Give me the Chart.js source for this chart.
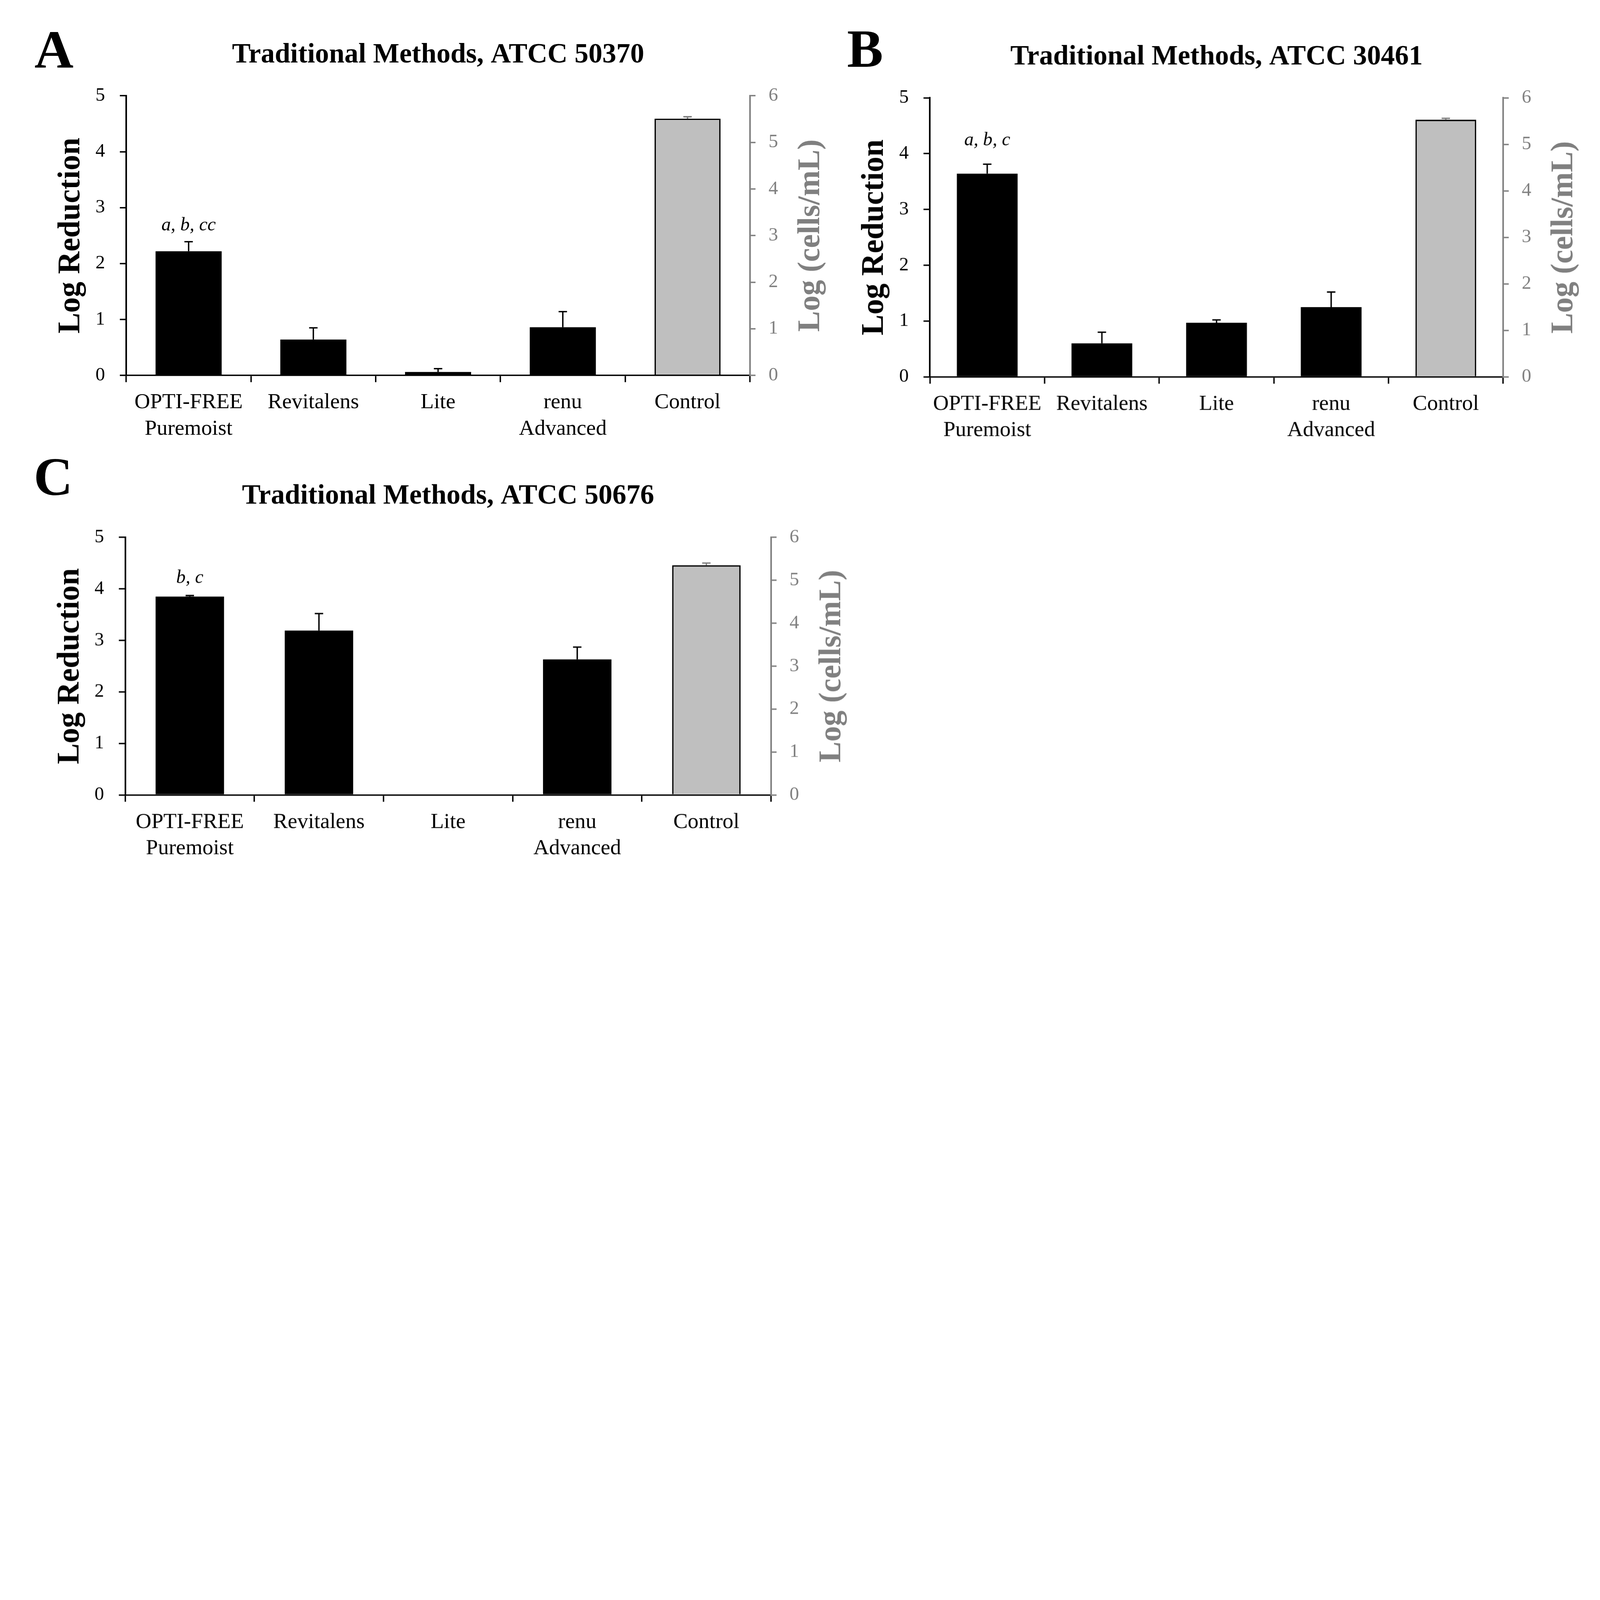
<!DOCTYPE html>
<html>
<head>
<meta charset="utf-8">
<script src="https://cdn.jsdelivr.net/npm/chart.js@4.4.0/dist/chart.umd.min.js"></script>
<style>
  html, body { margin: 0; padding: 0; background: #fff; overflow: hidden; }
  #page { position: absolute; left: 0; top: 0; width: 7984px; height: 4356px; transform-origin: 0 0; background: #fff; }
  canvas { position: absolute; }
  .letter { position: absolute; font-family: "Liberation Serif", serif; font-weight: bold; font-size: 270px; line-height: 1; color: #000; }
</style>
</head>
<body>
<div id="page">
<div class="letter" style="left:172px; top:111px;">A</div>
<div class="letter" style="left:4227px; top:107px;">B</div>
<div class="letter" style="left:168px; top:2244px;">C</div>
<canvas id="chartA" style="left:0; top:0;" width="4150" height="2250"></canvas>
<canvas id="chartB" style="left:4150px; top:0;" width="3834" height="2250"></canvas>
<canvas id="chartC" style="left:0; top:2250px;" width="4450" height="2106"></canvas>
</div>
<script>
// ---- dados ----
const categories = [["OPTI-FREE", "Puremoist"], "Revitalens", "Lite", ["renu", "Advanced"], "Control"];

// A - ATCC 50370
const reductionA = [2.22, 0.64, 0.06, 0.86, null];
const reductionErrA = [0.17, 0.21, 0.06, 0.28, null];
const controlA = [null, null, null, null, 5.51];
const controlErrA = [null, null, null, null, 0.04];

// B - ATCC 30461
const reductionB = [3.64, 0.60, 0.97, 1.25, null];
const reductionErrB = [0.17, 0.20, 0.05, 0.27, null];
const controlB = [null, null, null, null, 5.53];
const controlErrB = [null, null, null, null, 0.03];

// C - ATCC 50676
const reductionC = [3.85, 3.19, 0, 2.63, null];
const reductionErrC = [0.02, 0.33, 0, 0.24, null];
const controlC = [null, null, null, null, 5.35];
const controlErrC = [null, null, null, null, 0.05];

const FONT = '"Liberation Serif", "Times New Roman", serif';
const GRAY = "#808080";

// a janela real é menor que 7984x4356: escala a página inteira para caber
const fit = Math.min(window.innerWidth / 7984, window.innerHeight / 4356, 1);
document.getElementById("page").style.transform = `scale(${fit})`;

// barras de erro (só para cima)
const errorBars = {
    id: "errorBars",
    afterDatasetsDraw(chart) {
        const ctx = chart.ctx;
        chart.data.datasets.forEach((ds, di) => {
            const meta = chart.getDatasetMeta(di);
            const scale = chart.scales[ds.yAxisID];
            ds.errors.forEach((e, i) => {
                if (!e || ds.data[i] == null) return;
                const bar = meta.data[i];
                const yTop = scale.getPixelForValue(ds.data[i] + e);
                ctx.save();
                ctx.strokeStyle = ds.errorColor;
                ctx.lineWidth = 7;
                ctx.beginPath();
                ctx.moveTo(bar.x, bar.y);
                ctx.lineTo(bar.x, yTop);
                ctx.moveTo(bar.x - 21, yTop);
                ctx.lineTo(bar.x + 21, yTop);
                ctx.stroke();
                ctx.restore();
            });
        });
    }
};

// títulos, eixos e letras de significância
const panelText = {
    id: "panelText",
    afterDraw(chart, args, opts) {
        const ctx = chart.ctx;
        const area = chart.chartArea;
        const midY = (area.top + area.bottom) / 2;
        ctx.save();
        ctx.fillStyle = "#000";
        ctx.textAlign = "center";
        ctx.textBaseline = "middle";
        ctx.font = `bold 139px ${FONT}`;
        ctx.fillText(opts.title, (area.left + area.right) / 2, area.top - opts.titleGap);

        ctx.font = `bold 155px ${FONT}`;
        ctx.save();
        ctx.translate(area.left - 274, midY);
        ctx.rotate(-Math.PI / 2);
        ctx.fillText("Log Reduction", 0, 0);
        ctx.restore();

        ctx.fillStyle = GRAY;
        ctx.save();
        ctx.translate(area.right + opts.rightGap, midY);
        ctx.rotate(-Math.PI / 2);
        ctx.fillText("Log (cells/mL)", 0, 0);
        ctx.restore();

        // anotação sobre a primeira barra
        const ds = chart.data.datasets[0];
        const bar = chart.getDatasetMeta(0).data[0];
        const yErr = chart.scales.y.getPixelForValue(ds.data[0] + (ds.errors[0] || 0));
        ctx.fillStyle = "#000";
        ctx.font = `italic 94px ${FONT}`;
        ctx.fillText(opts.note, bar.x, yErr - opts.noteGap);
        ctx.restore();
    }
};

function makeChart(id, reduction, reductionErr, control, controlErr, p) {
    new Chart(document.getElementById(id), {
        type: "bar",
        data: {
            labels: categories,
            datasets: [
                {
                    label: "Log Reduction",
                    data: reduction,
                    errors: reductionErr,
                    errorColor: "#000",
                    yAxisID: "y",
                    backgroundColor: "#000",
                    borderWidth: 0,
                    grouped: false,
                    barPercentage: 0.53,
                    categoryPercentage: 1
                },
                {
                    label: "Control",
                    data: control,
                    errors: controlErr,
                    errorColor: GRAY,
                    yAxisID: "y2",
                    backgroundColor: "#bfbfbf",
                    borderColor: "#000",
                    borderWidth: 7,
                    grouped: false,
                    barPercentage: 0.53,
                    categoryPercentage: 1
                }
            ]
        },
        options: {
            responsive: false,
            animation: false,
            devicePixelRatio: fit,
            layout: { padding: { top: p.top, left: 0, right: 0, bottom: 0 } },
            plugins: {
                legend: { display: false },
                tooltip: { enabled: false },
                panelText: { title: p.title, note: p.note, titleGap: 203, rightGap: 305, noteGap: p.noteGap }
            },
            scales: {
                x: {
                    offset: true,
                    grid: { offset: true, drawOnChartArea: false, drawTicks: true, tickLength: 34, color: "#000", lineWidth: 7 },
                    border: { display: true, color: "#000", width: 7 },
                    ticks: {
                        color: "#000",
                        font: { family: FONT, size: 108, lineHeight: 1.22 },
                        padding: 36,
                        maxRotation: 0,
                        autoSkip: false
                    },
                    afterFit: s => { s.height = p.xHeight; }
                },
                y: {
                    position: "left",
                    min: 0, max: 5,
                    grid: { drawOnChartArea: false, drawTicks: true, tickLength: 32, color: "#000", lineWidth: 7 },
                    border: { display: true, color: "#000", width: 8 },
                    ticks: { stepSize: 1, color: "#000", font: { family: FONT, size: 95 }, padding: 74 },
                    afterFit: s => { s.width = p.yWidth; }
                },
                y2: {
                    position: "right",
                    min: 0, max: 6,
                    grid: { drawOnChartArea: false, drawTicks: true, tickLength: 28, color: GRAY, lineWidth: 7 },
                    border: { display: true, color: GRAY, width: 8 },
                    ticks: { stepSize: 1, color: GRAY, font: { family: FONT, size: 95 }, padding: 65 },
                    afterFit: s => { s.width = p.y2Width; }
                }
            }
        },
        plugins: [errorBars, panelText]
    });
}

makeChart("chartA", reductionA, reductionErrA, controlA, controlErrA,
    { title: "Traditional Methods, ATCC 50370", note: "a, b, cc", noteGap: 81, top: 478, yWidth: 630, y2Width: 408, xHeight: 377 });
makeChart("chartB", reductionB, reductionErrB, controlB, controlErrB,
    { title: "Traditional Methods, ATCC 30461", note: "a, b, c", noteGap: 119, top: 488, yWidth: 490, y2Width: 485, xHeight: 370 });
makeChart("chartC", reductionC, reductionErrC, controlC, controlErrC,
    { title: "Traditional Methods, ATCC 50676", note: "b, c", noteGap: 88, top: 431, yWidth: 625, y2Width: 603, xHeight: 390 });
</script>
</body>
</html>
